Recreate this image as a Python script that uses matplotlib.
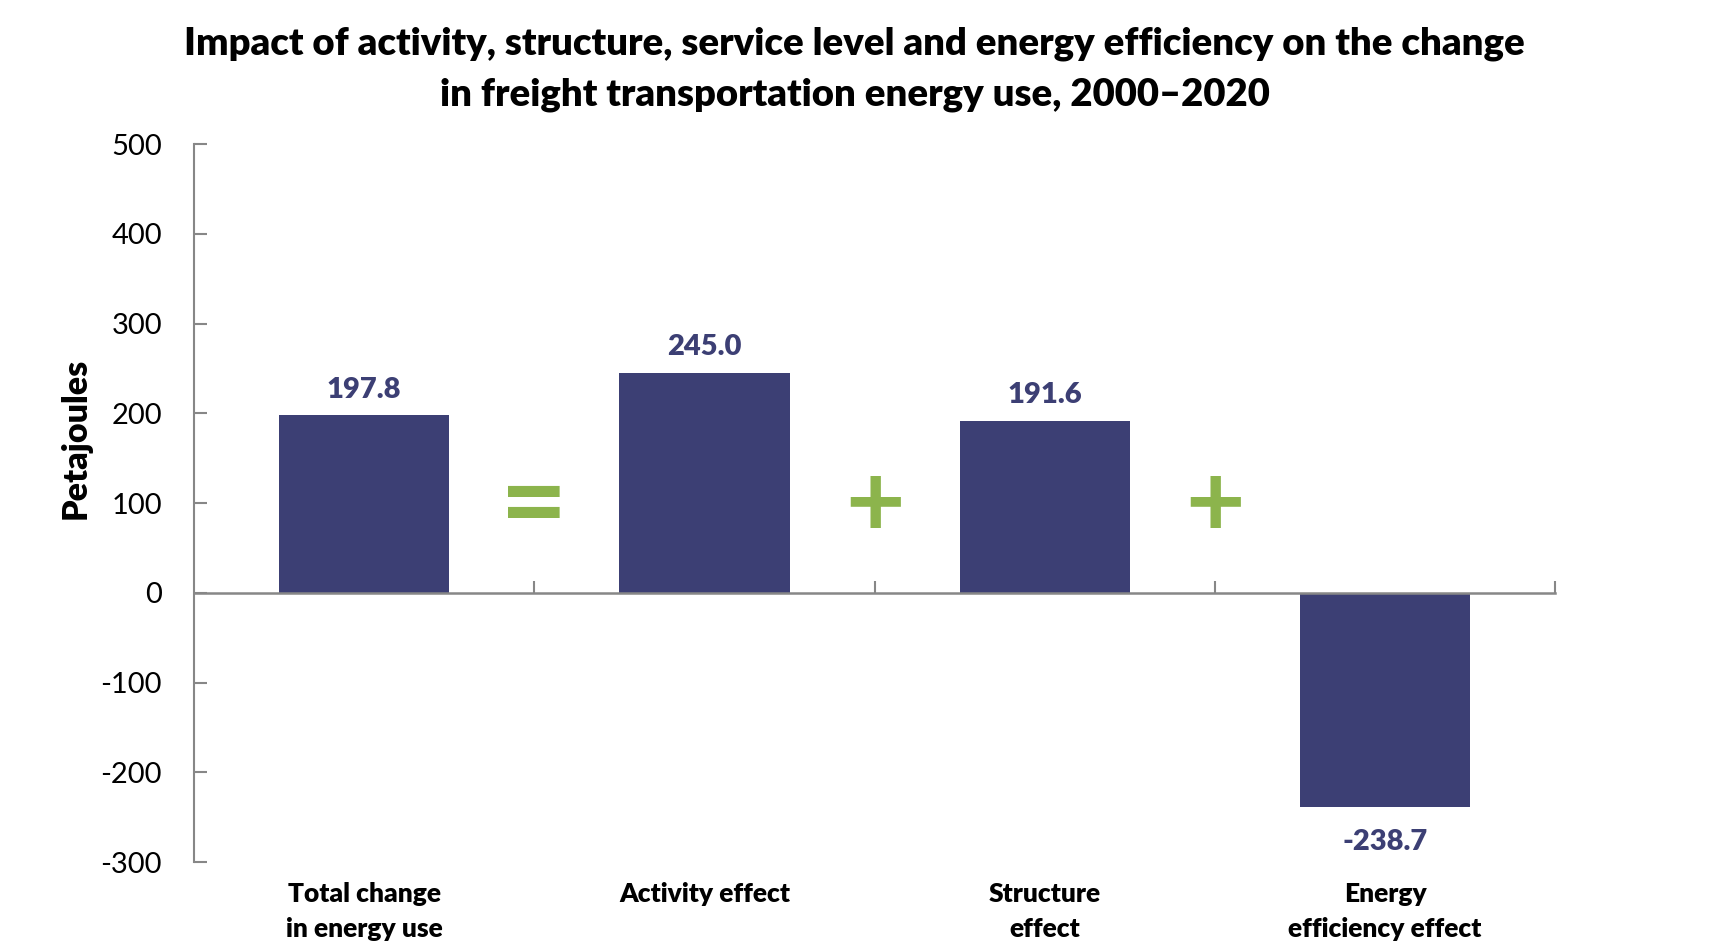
import matplotlib
matplotlib.use("Agg")
import matplotlib.pyplot as plt

categories = ["Total change\nin energy use", "Activity effect", "Structure\neffect", "Energy\nefficiency effect"]
values = [197.8, 245.0, 191.6, -238.7]
value_labels = ["197.8", "245.0", "191.6", "-238.7"]
operators = ["=", "+", "+"]
yticks = [-300, -200, -100, 0, 100, 200, 300, 400, 500]

bar_color = "#3C3F74"
green = "#8CB44C"
axis_color = "#878787"
plt.rcParams['font.family'] = ['Lato', 'DejaVu Sans']
BW = "heavy"

fig = plt.figure(figsize=(17.09, 9.48), dpi=100)
ax = fig.add_axes([0.1135, 0.0907, 0.7965, 0.7573])

x = list(range(len(categories)))
ax.bar(x, values, width=0.5, color=bar_color, zorder=2)
ax.set_xlim(-0.5, len(categories) - 0.5)
ax.set_ylim(-300, 500)
ax.set_yticks(yticks)
ax.set_yticklabels([str(t) for t in yticks], fontsize=21)

for s in ["top", "right"]:
    ax.spines[s].set_visible(False)
ax.spines["bottom"].set_position(("data", 0))
ax.spines["bottom"].set_color(axis_color)
ax.spines["left"].set_color(axis_color)
ax.spines["bottom"].set_linewidth(1.8)
ax.spines["left"].set_linewidth(1.5)
ax.spines["bottom"].set_zorder(3)

ax.set_xticks([i + 0.5 for i in x])
ax.set_xticklabels([])
ax.tick_params(axis="x", direction="in", length=9, width=1.5, color=axis_color)
ax.tick_params(axis="y", direction="in", length=9, width=1.5, color=axis_color, pad=23)

for xi, v, lab in zip(x, values, value_labels):
    off = 18.5 if v >= 0 else -25
    ax.annotate(lab, (xi, v), xytext=(0, off), textcoords="offset points",
                ha="center", va="center", fontsize=21, fontweight=BW, color=bar_color)

for i, c in enumerate(categories):
    ax.text(i, -0.028, c, transform=ax.get_xaxis_transform(), ha="center", va="top",
            fontsize=19, fontweight=BW, color="black", linespacing=1.52)

for i, op in enumerate(operators):
    fs = 84 if op == "=" else 74
    ax.annotate(op, (i + 0.5, 100), xytext=(0, 3), textcoords="offset points",
                ha="center", va="center_baseline", fontsize=fs, fontweight="bold", color=green)

ax.set_ylabel("Petajoules", fontsize=24.5, fontweight=BW)
ax.yaxis.set_label_coords(-0.075, 0.59)

fig.suptitle("Impact of activity, structure, service level and energy efficiency on the change\nin freight transportation energy use, 2000\u20132020",
             x=0.5, y=0.972, fontsize=27.5, fontweight=BW, linespacing=1.58)

fig.savefig("out.png", dpi=100)
